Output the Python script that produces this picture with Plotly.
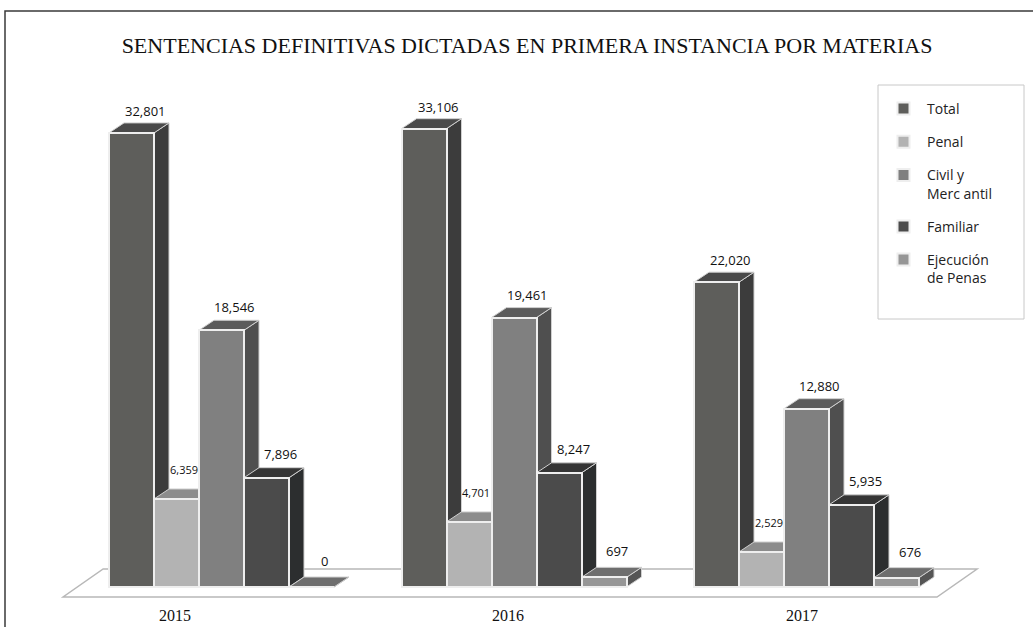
import plotly.graph_objects as go

# ---------------- data ----------------
years = ["2015", "2016", "2017"]
series_names = ["Total", "Penal", "Civil y<br>Merc antil", "Familiar", "Ejecución<br>de Penas"]
total = [32801, 33106, 22020]
penal = [6359, 4701, 2529]
civil_mercantil = [18546, 19461, 12880]
familiar = [7896, 8247, 5935]
ejecucion_penas = [0, 697, 676]
series_values = [total, penal, civil_mercantil, familiar, ejecucion_penas]

# ---------------- style ----------------
W, H = 1033, 627
ML, MR, MT, MB = 40, 0, 90, 22
PLOT_W, PLOT_H = W - ML - MR, H - MT - MB
X_RANGE = [-2.0333, 20.0333]
Y_RANGE = [-1300, 35900]
PX_X = PLOT_W / (X_RANGE[1] - X_RANGE[0])
PX_Y = PLOT_H / (Y_RANGE[1] - Y_RANGE[0])
DEPTH_DX = 15 / PX_X
DEPTH_DY = 10 / PX_Y
GROUP_PITCH = 6.5
BAR_W = 1.0

front_colors = ["#5e5e5b", "#b3b3b3", "#808080", "#4b4b4b", "#969696"]
top_colors = ["#4a4a4a", "#8c8c8c", "#5b5b5b", "#353535", "#6e6e6e"]
side_colors = ["#3c3c3c", "#7a7a7a", "#4f4f4f", "#2c2e2f", "#555555"]
label_sizes = [13, 11, 13, 13, 13]
label_xshift = [14, 7, 13, 14, 13]
label_yshift = [12, 19, 13, 14, 16]

FONT_SANS = "Open Sans"
FONT_SERIF = "Liberation Serif"

fig = go.Figure()
shapes = []

# floor plane
fl_xl, fl_xr, fl_skew = -1.52, 17.9, 0.89
fl_yb, fl_yt = -10 / PX_Y, 18 / PX_Y
shapes.append(dict(
    type="path", xref="x", yref="y", layer="below",
    path=f"M{fl_xl},{fl_yb} L{fl_xr},{fl_yb} L{fl_xr + fl_skew},{fl_yt} L{fl_xl + fl_skew},{fl_yt} Z",
    fillcolor="white", line=dict(color="#b8b8b8", width=1.5),
))

side_shapes, top_shapes = [], []
annotations = []
for s, (name, vals) in enumerate(zip(series_names, series_values)):
    xs = [g * GROUP_PITCH + s for g in range(len(years))]
    fig.add_trace(go.Bar(
        x=xs, y=vals, width=BAR_W, name=name, legendgroup=f"g{s}",
        marker=dict(color=front_colors[s], line=dict(color="#eeeeee", width=2)),
        hoverinfo="skip",
    ))
    for x, v in zip(xs, vals):
        xl, xr = x - BAR_W / 2, x + BAR_W / 2
        side_shapes.append(dict(
            type="path", xref="x", yref="y", layer="below",
            path=f"M{xr},0 L{xr + DEPTH_DX},{DEPTH_DY} L{xr + DEPTH_DX},{v + DEPTH_DY} L{xr},{v} Z",
            fillcolor=side_colors[s], line=dict(color="#d0d0d0", width=1),
        ))
        top_shapes.append(dict(
            type="path", xref="x", yref="y", layer="below",
            path=f"M{xl},{v} L{xl + DEPTH_DX},{v + DEPTH_DY} L{xr + DEPTH_DX},{v + DEPTH_DY} L{xr},{v} Z",
            fillcolor=top_colors[s], line=dict(color="#d0d0d0", width=1),
        ))
        annotations.append(dict(
            x=x, y=v + DEPTH_DY, xref="x", yref="y", text=f"{v:,}",
            showarrow=False, xanchor="center", yanchor="middle",
            xshift=label_xshift[s], yshift=label_yshift[s],
            font=dict(family=FONT_SANS, size=label_sizes[s], color="#111111"),
        ))

shapes += side_shapes + top_shapes

# year labels
year_offsets = [0.97, 1.87, 1.9]
for g, yr in enumerate(years):
    annotations.append(dict(
        x=g * GROUP_PITCH + year_offsets[g], y=-10 / PLOT_H, xref="x", yref="paper",
        text=yr, showarrow=False, xanchor="center", yanchor="middle",
        font=dict(family=FONT_SERIF, size=16, color="#111111"),
    ))

def px_to_paper_x(px):
    return (px - ML) / PLOT_W

def px_to_paper_y(py):
    return (H - MB - py) / PLOT_H

# outer frame
shapes.append(dict(
    type="rect", xref="paper", yref="paper", layer="above",
    x0=px_to_paper_x(5), x1=px_to_paper_x(W + 10), y0=px_to_paper_y(H + 10), y1=px_to_paper_y(11),
    line=dict(color="#3a3a3a", width=1.5), fillcolor="rgba(0,0,0,0)",
))
# legend box
shapes.append(dict(
    type="rect", xref="paper", yref="paper", layer="above",
    x0=px_to_paper_x(878), x1=px_to_paper_x(1024), y0=px_to_paper_y(319), y1=px_to_paper_y(85),
    line=dict(color="#c8c8c8", width=1), fillcolor="rgba(0,0,0,0)",
))

fig.update_layout(
    width=W, height=H,
    margin=dict(l=ML, r=MR, t=MT, b=MB),
    paper_bgcolor="white", plot_bgcolor="white",
    barmode="overlay", bargap=0,
    title=dict(
        text="SENTENCIAS DEFINITIVAS DICTADAS EN PRIMERA INSTANCIA POR MATERIAS",
        x=px_to_paper_x(527), xref="paper", xanchor="center",
        y=1 - 45 / H, yref="container", yanchor="middle",
        font=dict(family=FONT_SERIF, size=22, color="#111111"),
    ),
    xaxis=dict(range=X_RANGE, visible=False, showgrid=False, zeroline=False, fixedrange=True),
    yaxis=dict(range=Y_RANGE, visible=False, showgrid=False, zeroline=False, fixedrange=True),
    legend=dict(
        x=px_to_paper_x(880), y=px_to_paper_y(93), xanchor="left", yanchor="top",
        bgcolor="rgba(0,0,0,0)", borderwidth=0,
        font=dict(family=FONT_SANS, size=14, color="#222222"),
        tracegroupgap=12, valign="top", traceorder="grouped", itemwidth=37,
    ),
    shapes=shapes,
    annotations=annotations,
    showlegend=True,
)

fig.write_html("out.html", post_script="document.body.style.margin='0';",
               config={"displayModeBar": False})
